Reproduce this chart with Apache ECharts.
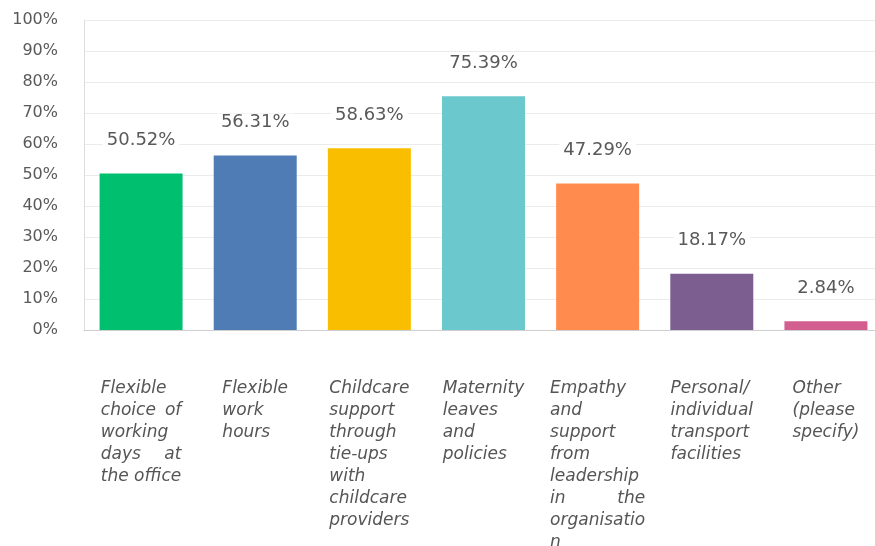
<!DOCTYPE html>
<html>
<head>
<meta charset="utf-8">
<script src="https://cdn.jsdelivr.net/npm/echarts@6/dist/echarts.min.js"></script>
<style>
html,body{margin:0;padding:0;background:#fff;}
#chart{width:875px;height:546px;}
</style>
</head>
<body>
<div id="chart"></div>
<script>
const categories = [
  "Flexible\nchoice of\nworking\ndays at\nthe office",
  "Flexible\nwork\nhours",
  "Childcare\nsupport\nthrough\ntie-ups\nwith\nchildcare\nproviders",
  "Maternity\nleaves\nand\npolicies",
  "Empathy\nand\nsupport\nfrom\nleadership\nin the\norganisatio\nn",
  "Personal/\nindividual\ntransport\nfacilities",
  "Other\n(please\nspecify)"
];
const values = [50.52, 56.31, 58.63, 75.39, 47.29, 18.17, 2.84];
const colors = ["#00BF6F", "#507CB6", "#F9BE00", "#6BC8CD", "#FF8B4F", "#7D5E90", "#D25F90"];
const yTicks = [0, 10, 20, 30, 40, 50, 60, 70, 80, 90, 100];

const catFont = 'italic normal 17px "DejaVu Sans"';
const ctx = document.createElement('canvas').getContext('2d');
ctx.font = catFont;
const mw = s => ctx.measureText(s).width;

const baseTok = { fontFamily: 'DejaVu Sans', fontStyle: 'italic', fontSize: 17, lineHeight: 22, color: '#555555', align: 'left' };
const rich = { w: Object.assign({}, baseTok) };
const formatted = categories.map((name, i) => {
  const lines = name.split('\n');
  const W = Math.max(...lines.map(mw));
  return lines.map((line, j) => {
    const words = line.split(' ');
    if (words.length > 1 && j < lines.length - 1) {
      const sum = words.reduce((a, w) => a + mw(w), 0);
      const gap = (W - sum) / (words.length - 1);
      const key = 'g' + i + '_' + j;
      rich[key] = Object.assign({}, baseTok, { width: gap });
      return words.map(w => '{w|' + w + '}').join('{' + key + '|\u00a0}');
    }
    return '{w|' + line + '}';
  }).join('\n');
});

const chart = echarts.init(document.getElementById('chart'), null, { renderer: 'canvas' });
chart.setOption({
  animation: false,
  grid: { left: 84, top: 20, width: 799, height: 310, outerBoundsMode: 'none', containLabel: false },
  xAxis: {
    type: 'category',
    data: categories,
    axisLine: { lineStyle: { color: '#cfcfcf', width: 1 } },
    axisTick: { show: false },
    axisLabel: {
      interval: 0,
      margin: 48,
      fontFamily: 'DejaVu Sans',
      fontStyle: 'italic',
      fontSize: 17,
      lineHeight: 22,
      color: '#555555',
      formatter: (v, idx) => formatted[idx],
      rich: rich
    }
  },
  yAxis: {
    type: 'value',
    min: 0, max: 100, interval: 10,
    axisLine: { show: true, lineStyle: { color: '#dddddd' } },
    axisTick: { show: false },
    splitLine: { lineStyle: { color: '#ebebeb' } },
    axisLabel: {
      margin: 26,
      fontFamily: 'DejaVu Sans',
      fontSize: 16,
      color: '#595959',
      formatter: v => v + '%'
    }
  },
  series: [{
    type: 'bar',
    barWidth: 83,
    data: values.map((v, i) => ({ value: v, itemStyle: { color: colors[i] } })),
    label: {
      show: true,
      position: 'top',
      distance: 24,
      fontFamily: 'DejaVu Sans',
      fontSize: 18,
      color: '#595959',
      backgroundColor: '#ffffff',
      padding: [0, 4],
      formatter: p => p.value.toFixed(2) + '%'
    }
  }]
});
</script>
</body>
</html>
